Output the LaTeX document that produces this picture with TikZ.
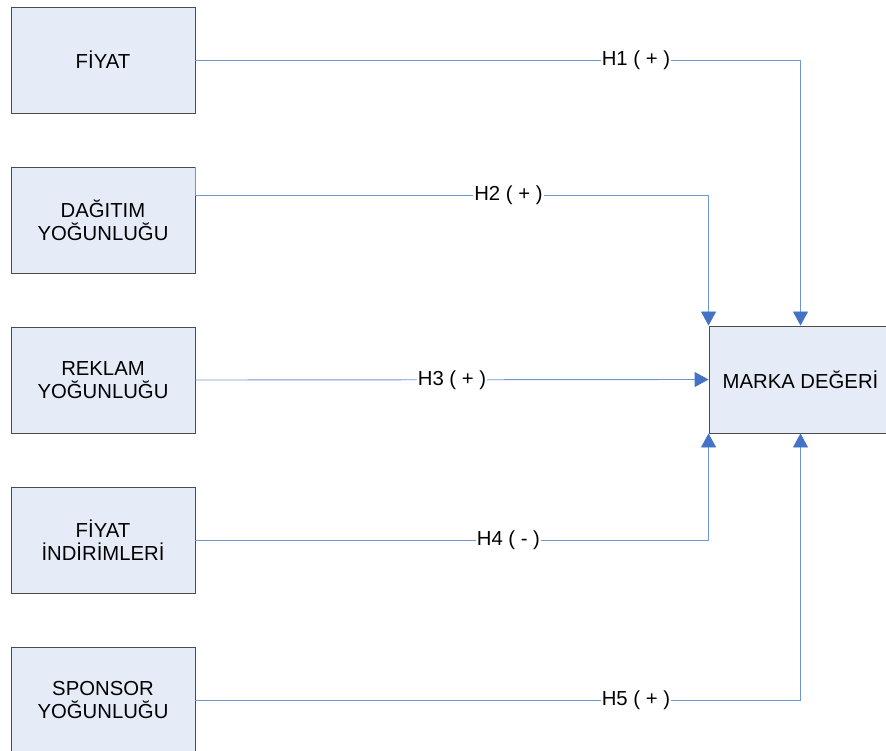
\documentclass[tikz,border=0pt]{standalone}
\usepackage{fontspec}
\setmainfont{Liberation Sans}
\usetikzlibrary{arrows.meta}
\definecolor{boxfill}{RGB}{230,236,247}
\definecolor{linkblue}{RGB}{68,114,196}
\definecolor{linklight}{RGB}{110,150,212}
\begin{document}
\begin{tikzpicture}
[
    x=1pt, y=-1pt,
    font=\fontsize{20.3}{23}\selectfont,
    factor/.style={draw=black!70, fill=boxfill, line width=0.9pt, minimum width=184pt, minimum height=106pt, align=center, inner sep=0pt},
    link/.style={draw=linklight, line width=0.9pt, -{Triangle[length=14pt,width=15pt,color=linkblue]}},
    hyp/.style={fill=white, inner sep=1pt}
]
    \useasboundingbox (0,0) rectangle (886,751);
    % left factors
    \node [factor] (fiyat) at (103,60) {FİYAT};
    \node [factor] (dagitim) at (103,220) {DAĞITIM\\YOĞUNLUĞU};
    \node [factor] (reklam) at (103,380) {REKLAM\\YOĞUNLUĞU};
    \node [factor] (indirim) at (103,540) {FİYAT\\İNDİRİMLERİ};
    \node [factor] (sponsor) at (103,700) {SPONSOR\\YOĞUNLUĞU};
    % brand equity
    \node [factor, minimum width=183pt, minimum height=107pt] (marka) at (800.5,379.5) {MARKA DEĞERİ};
    \coordinate (d2) at ([yshift=25pt]dagitim.east);
    % hypotheses
    \draw [link] (fiyat.east) -| node [hyp, pos=0.364] {H1 ( + )} (marka.north);
    \draw [draw=linklight, line width=0.9pt] (dagitim.north east) -- (d2);
    \draw [link] (d2) -| node [hyp, pos=0.305] {H2 ( + )} (marka.north west);
    \draw [link] (reklam.east) -- node [hyp] {H3 ( + )} (marka.west);
    \draw [link] (indirim.east) -| node [hyp, pos=0.305] {H4 ( - )} (marka.south west);
    \draw [link] (sponsor.east) -| node [hyp, pos=0.364] {H5 ( + )} (marka.south);
\end{tikzpicture}
\end{document}
